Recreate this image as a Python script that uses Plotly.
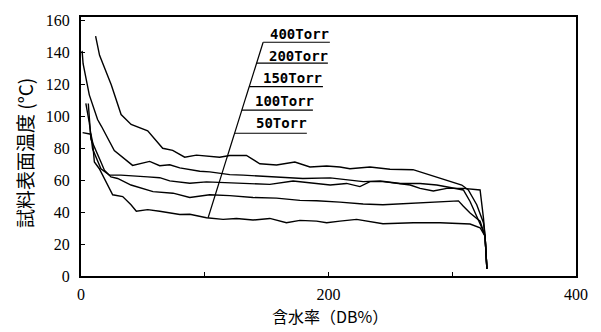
import plotly.graph_objects as go

# ---- data (moisture content DB%, sample surface temperature degC) ----
x_400 = [11.8, 15.0, 24.5, 32.4, 40.5, 53.9, 66.0, 74.1, 83.8, 93.3, 112.0, 120.2, 133.7, 144.5, 158.0,
         172.8, 185.0, 198.5, 209.2, 217.3, 233.5, 249.7, 268.3, 282.0, 295.6, 307.7, 313.0, 319.8,
         325.2, 326.5, 328.0]
y_400 = [150.0, 138.0, 119.4, 101.0, 94.8, 90.8, 79.9, 78.6, 74.3, 75.6, 74.3, 75.4, 75.4, 70.2, 69.4,
         71.3, 68.2, 68.8, 68.2, 67.1, 68.2, 66.8, 66.5, 63.0, 60.0, 56.9, 53.8, 44.6,
         33.3, 25.0, 4.5]

x_200 = [0.9, 1.7, 6.7, 13.4, 16.4, 26.9, 41.7, 55.5, 63.6, 71.7, 79.8, 96.0, 104.0, 120.2, 131.0,
         152.6, 179.3, 201.4, 228.0, 241.8, 258.0, 274.0, 287.5, 309.0, 314.4, 323.9, 326.5, 328.0]
y_200 = [140.8, 132.8, 113.3, 97.9, 93.8, 78.5, 69.2, 71.7, 69.0, 69.6, 67.6, 65.5, 65.1, 63.4, 63.1,
         62.0, 61.0, 61.4, 59.0, 59.4, 57.9, 57.9, 56.9, 53.8, 46.6, 30.2, 25.0, 4.5]

x_150 = [3.9, 6.7, 9.4, 16.1, 22.9, 32.3, 53.9, 63.6, 71.7, 87.9, 101.4, 120.2, 136.4, 152.6, 171.4,
         187.6, 201.4, 214.6, 225.4, 233.5, 244.3, 266.0, 274.0, 284.7, 295.6, 309.0, 322.5, 325.2,
         326.5, 328.0]
y_150 = [107.9, 95.9, 79.4, 67.1, 63.1, 63.1, 62.0, 61.5, 59.5, 58.0, 58.9, 58.4, 57.9, 57.3, 59.4,
         57.9, 56.9, 57.9, 55.9, 59.0, 59.0, 56.9, 54.8, 53.2, 54.8, 54.8, 53.8, 36.4,
         25.0, 4.5]

x_100 = [5.9, 8.0, 16.1, 18.9, 24.2, 29.6, 40.4, 53.9, 58.2, 74.4, 87.9, 104.0, 120.2, 139.0, 158.0,
         176.9, 190.4, 209.2, 228.0, 244.0, 268.6, 290.2, 305.0, 309.0, 314.4, 322.5, 326.5, 328.0]
y_100 = [107.9, 85.6, 71.3, 66.2, 62.0, 61.0, 56.9, 53.8, 52.8, 51.8, 49.1, 50.8, 50.3, 49.1, 48.7,
         47.3, 47.1, 46.2, 45.0, 44.6, 45.6, 46.2, 47.0, 43.6, 39.4, 34.3, 25.0, 4.5]

x_50 = [1.3, 8.0, 9.4, 10.8, 14.8, 18.9, 25.6, 33.7, 40.4, 44.7, 53.9, 63.6, 79.8, 87.9, 101.4, 114.8,
        125.6, 139.0, 152.6, 166.0, 176.9, 190.4, 198.5, 209.2, 222.7, 244.0, 268.6, 290.2, 314.4,
        322.5, 326.5, 328.0]
y_50 = [89.7, 88.7, 83.6, 71.3, 67.1, 61.0, 50.8, 49.7, 44.6, 40.5, 41.5, 40.5, 38.5, 38.6, 36.4, 35.4,
        36.0, 35.0, 36.0, 33.3, 34.8, 34.3, 33.3, 34.3, 35.4, 32.7, 33.3, 33.3, 32.5,
        30.2, 25.0, 4.5]

series_names = ["400Torr", "200Torr", "150Torr", "100Torr", "50Torr"]

# label call-out: leader line end points and underline right ends / label anchors
leader_x = [102.7, 147.2]
leader_y = [36.4, 146.2]
underline_y = [146.2, 133.2, 118.5, 103.7, 89.3]
underline_x_end = [201.1, 199.5, 195.5, 187.4, 182.5]
label_x = [151.0, 149.9, 145.3, 139.1, 139.6]
label_y = [151.3, 137.9, 124.1, 109.7, 95.9]

x_tickvals = [0, 100, 200, 300, 400]
x_ticktext = ["0", "", "200", "", "400"]
y_tickvals = [0, 20, 40, 60, 80, 100, 120, 140, 160]

x_title = "含水率（DB%）"
y_title = "試料表面温度 (°C)"

fig = go.Figure()
line_style = dict(color="black", width=1.4)
for xs, ys, nm in [(x_400, y_400, series_names[0]), (x_200, y_200, series_names[1]),
                   (x_150, y_150, series_names[2]), (x_100, y_100, series_names[3]),
                   (x_50, y_50, series_names[4])]:
    fig.add_trace(go.Scatter(x=xs, y=ys, mode="lines", name=nm, line=line_style,
                             showlegend=False, hoverinfo="skip"))

# leader line
fig.add_trace(go.Scatter(x=leader_x, y=leader_y, mode="lines", line=dict(color="black", width=1.2),
                         showlegend=False, hoverinfo="skip"))
# underlines starting at leader line
slope = (leader_x[1] - leader_x[0]) / (leader_y[1] - leader_y[0])
for uy, ux_end in zip(underline_y, underline_x_end):
    ux0 = leader_x[0] + (uy - leader_y[0]) * slope
    fig.add_trace(go.Scatter(x=[ux0, ux_end], y=[uy, uy], mode="lines",
                             line=dict(color="black", width=1.2), showlegend=False, hoverinfo="skip"))

for nm, lx, ly in zip(series_names, label_x, label_y):
    fig.add_annotation(x=lx, y=ly, text="<b>" + nm + "</b>", showarrow=False, xanchor="left",
                       yanchor="middle", font=dict(family="DejaVu Sans Mono", size=14, color="black"))

# axis titles as annotations for precise placement
fig.add_annotation(x=0.503, y=-0.156, xref="paper", yref="paper", text=x_title, showarrow=False,
                   xanchor="center", yanchor="middle",
                   font=dict(family="Noto Sans CJK JP", size=16, color="black"))
fig.add_annotation(x=-0.113, y=0.475, xref="paper", yref="paper", text=y_title, showarrow=False,
                   textangle=-90, xanchor="center", yanchor="middle",
                   font=dict(family="Noto Sans CJK JP", size=19, color="black"))

fig.update_layout(
    width=601, height=332,
    margin=dict(l=81, r=25, t=13, b=56),
    paper_bgcolor="white", plot_bgcolor="white",
    showlegend=False,
    font=dict(family="Liberation Serif", size=16, color="black"),
)
fig.update_xaxes(range=[0, 400], tickvals=x_tickvals, ticktext=x_ticktext, ticks="inside", ticklen=4,
                 tickwidth=1.2, tickcolor="black", showgrid=False, zeroline=False,
                 showline=True, linecolor="black", linewidth=2, mirror=True,
                 tickfont=dict(family="Liberation Serif", size=16), ticklabelstandoff=3)
fig.update_yaxes(range=[0, 162], tickvals=y_tickvals, ticks="inside", ticklen=4, tickwidth=1.2,
                 tickcolor="black", showgrid=False, zeroline=False,
                 showline=True, linecolor="black", linewidth=2, mirror=True,
                 tickfont=dict(family="Liberation Serif", size=16), ticklabelstandoff=6)

fig.write_html("out.html", config={"displayModeBar": False},
               post_script="document.body.style.margin='0px';document.body.style.overflow='hidden';")
